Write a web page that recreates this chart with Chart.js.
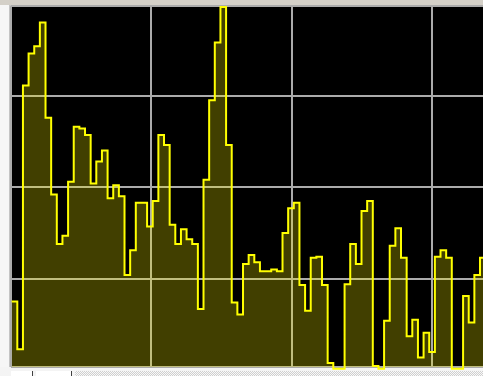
<!DOCTYPE html>
<html>
<head>
<meta charset="utf-8">
<script src="https://cdn.jsdelivr.net/npm/chart.js@4/dist/chart.umd.min.js"></script>
<style>
html,body{margin:0;padding:0;width:483px;height:376px;overflow:hidden;background:#f4f4f4;}
#wrap{position:relative;width:483px;height:376px;}
.f{position:absolute;}
#topbar{left:0;top:0;width:483px;height:5px;background:#d4d0c8;}
#leftbar{left:0;top:5px;width:11px;height:371px;background:#f6f6f6;}
#leftedge{left:9px;top:5px;width:2px;height:371px;background:#c4c4c4;}
#bottombar{left:0;top:367px;width:483px;height:9px;background:#f4f4f4;}
#track{left:75px;top:371px;width:408px;height:5px;background:repeating-conic-gradient(#cfcfcf 0 25%,#f8f8f8 0 50%) 0 0/2px 2px;}
#btn1{left:11px;top:371px;width:21px;height:5px;background:#ffffff;border-right:1px solid #404040;}
#btn2{left:36px;top:371px;width:35px;height:5px;background:#ffffff;border-right:1px solid #404040;}
canvas{position:absolute;left:0;top:0;z-index:2;}
</style>
</head>
<body>
<div id="wrap">
  <div class="f" id="topbar"></div>
  <div class="f" id="leftbar"></div>
  <div class="f" id="leftedge"></div>
  <div class="f" id="bottombar"></div>
  <div class="f" id="track"></div>
  <div class="f" id="btn1"></div>
  <div class="f" id="btn2"></div>
  <canvas id="c" width="483" height="376"></canvas>
</div>
<script>
// Sample values (one per step)
const sampleValues = [
  75, 23, 311, 346, 354, 380, 276, 192, 138, 147,
  206, 266, 264, 257, 204, 228, 240, 188, 202, 190,
  104, 131, 183, 183, 157, 185, 257, 246, 159, 138,
  154, 143, 138, 67, 208, 295, 358, 397, 246, 74,
  61, 116, 126, 118, 108, 108, 110, 108, 150, 177,
  183, 93, 65, 123, 124, 93, 8, 1.6, 1.6, 94,
  138, 116, 174, 185, 4.6, 1.6, 54, 136, 155, 123,
  37, 55, 14, 41, 20, 124, 131, 123, 1.6, 1.6,
  81, 52, 104, 123
];
// Sample indices (categories)
const sampleIndex = sampleValues.map((_, i) => i);

// Axis ranges and grid tick positions
const xRange = [-0.117, 83.53];
const xGridTicks = [-0.117, 24.75, 49.6, 74.45];
const yRange = [3.5, 398];
const yGridTicks = [3.5, 100, 200, 300, 398];

const points = sampleIndex.map(i => ({x: i, y: sampleValues[i]}));
// hold the last value to the end of its step
points.push({x: sampleIndex.length, y: sampleValues[sampleValues.length - 1]});

const plotBackground = {
  id: 'plotBackground',
  beforeDraw(chart) {
    const {ctx, chartArea: a} = chart;
    ctx.save();
    ctx.fillStyle = '#000000';
    ctx.fillRect(a.left, a.top, a.right - a.left, a.bottom - a.top);
    ctx.restore();
  }
};

const gridOpts = {color: '#ababab', lineWidth: 2, drawTicks: false};

new Chart(document.getElementById('c'), {
  type: 'line',
  data: {
    datasets: [{
      data: points,
      stepped: 'before',
      borderColor: '#ffff00',
      borderWidth: 2,
      backgroundColor: 'rgba(255,246,0,0.255)',
      fill: 'start',
      pointRadius: 0,
      clip: {left: 0, top: 1, right: 0, bottom: 4}
    }]
  },
  options: {
    responsive: false,
    animation: false,
    layout: {padding: {left: 11, top: 6, right: 0, bottom: 9}},
    plugins: {legend: {display: false}, tooltip: {enabled: false}},
    scales: {
      x: {
        type: 'linear',
        bounds: 'data',
        min: xRange[0],
        max: xRange[1],
        grid: gridOpts,
        border: {display: false},
        ticks: {display: false},
        afterBuildTicks: s => { s.ticks = xGridTicks.map(v => ({value: v})); }
      },
      y: {
        type: 'linear',
        bounds: 'data',
        min: yRange[0],
        max: yRange[1],
        grid: gridOpts,
        border: {display: false},
        ticks: {display: false},
        afterBuildTicks: s => { s.ticks = yGridTicks.map(v => ({value: v})); }
      }
    }
  },
  plugins: [plotBackground]
});
</script>
</body>
</html>
